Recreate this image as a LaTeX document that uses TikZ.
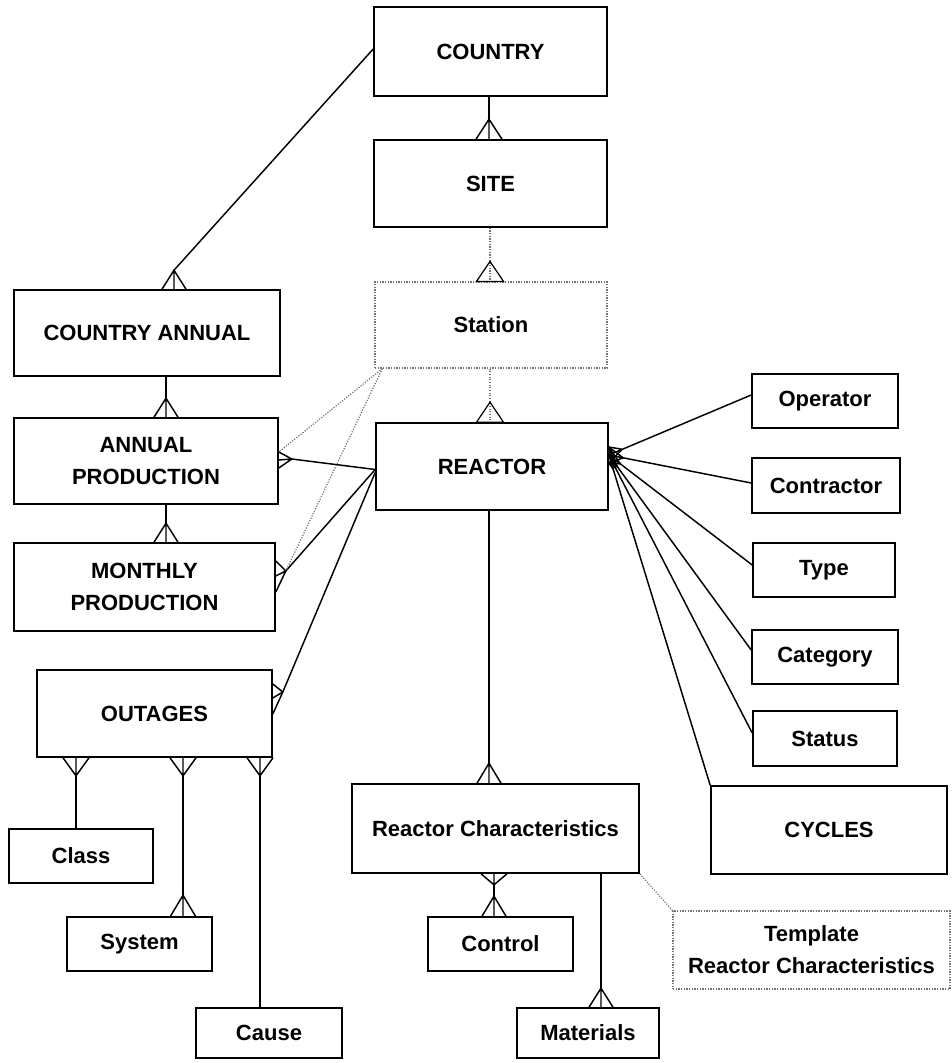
\documentclass[tikz,border=0pt]{standalone}
\usepackage{fontspec}
\setmainfont{Liberation Sans}
\usetikzlibrary{calc}

\tikzset{
  ent/.style={draw, line width=1.2pt, inner sep=2pt, align=center,
    font=\fontsize{16.5}{24}\selectfont\bfseries},
  weak/.style={ent, draw=black!55, dash pattern=on 0.9pt off 1.1pt, line width=0.9pt},
  link/.style={line width=1.1pt},
  faint/.style={draw=black!55, dash pattern=on 0.9pt off 1.1pt, line width=0.9pt},
  tri/.style={line width=0.9pt},
}

% entity box given by its corners (x1,y1) (x2,y2), in px
\newcommand\entity[7][ent]{%
  \node[#1, minimum width={(#5-#3)*0.75pt}, minimum height={(#6-#4)*0.75pt}]
    (#2) at ({(#3+#5)/2},{(#4+#6)/2}) {#7};}

% crow's foot on an edge point #1, tip named #2 at offset #3, half spread #4
\newcommand\foot[4]{%
  \coordinate (#2) at ($(#1)+(#3)$);
  \draw[link] ($(#1)+(#4)$) -- (#2) -- ($(#1)-(#4)$) (#2) -- (#1);}

% crow's foot given by its tip #1 and prong ends #2 #3 #4
\newcommand\crow[4]{\draw[link] (#2) -- (#1) -- (#3) (#1) -- (#4);}

\begin{document}
\begin{tikzpicture}[x=0.75pt,y=-0.75pt]
\useasboundingbox (0,0) rectangle (951,1063);

% entities
\entity{country}{374}{7}{607}{96}{COUNTRY}
\entity{site}{374}{140}{607}{227}{SITE}
\entity[weak]{station}{375}{282}{607}{368}{Station}
\entity{reactor}{376}{423}{608}{510}{REACTOR}
\entity{cannual}{14}{290}{280}{376}{COUNTRY ANNUAL}
\entity{annual}{14}{418}{278}{504}{ANNUAL\\PRODUCTION}
\entity{monthly}{14}{543}{275}{631}{MONTHLY\\PRODUCTION}
\entity{outages}{37}{670}{272}{757}{OUTAGES}
\entity{class}{9}{829}{153}{883}{Class}
\entity{system}{67}{917}{212}{971}{System}
\entity{cause}{196}{1008}{342}{1058}{Cause}
\entity{operator}{752}{374}{898}{428}{Operator}
\entity{contractor}{752}{458}{900}{513}{Contractor}
\entity{rtype}{753}{543}{895}{597}{Type}
\entity{category}{752}{630}{898}{684}{Category}
\entity{status}{753}{711}{897}{766}{Status}
\entity{cycles}{711}{786}{947}{874}{CYCLES}
\entity{rchar}{352}{784}{639}{873}{Reactor Characteristics}
\entity{control}{428}{917}{573}{971}{Control}
\entity{materials}{517}{1008}{659}{1058}{Materials}
\entity[weak]{template}{673}{911}{950}{989}{Template\\Reactor Characteristics}

% COUNTRY -> SITE
\coordinate (s1) at ($(site.north)+(-1.5,0)$);
\foot{s1}{s1t}{0,-20}{13,0}
\draw[link] (s1 |- country.south) -- (s1t);

% COUNTRY -> COUNTRY ANNUAL
\coordinate (ca1) at ($(cannual.north)+(27,0)$);
\foot{ca1}{ca1t}{0,-19}{12,0}
\draw[link] ($(country.west)+(0,-2.5)$) -- (ca1t);

% COUNTRY ANNUAL -> ANNUAL PRODUCTION
\coordinate (ap1) at ($(annual.north)+(20,0)$);
\foot{ap1}{ap1t}{0,-19}{12,0}
\draw[link] (ap1 |- cannual.south) -- (ap1t);

% ANNUAL PRODUCTION -> MONTHLY PRODUCTION
\coordinate (mp1) at ($(monthly.north)+(21.5,0)$);
\foot{mp1}{mp1t}{0,-19}{12,0}
\draw[link] (mp1 |- annual.south) -- (mp1t);

% SITE -> Station -> REACTOR (dotted, with triangles)
\coordinate (st1) at ($(station.north)+(-1,0)$);
\coordinate (st1t) at ($(st1)+(0,-20)$);
\draw[faint] (st1 |- site.south) -- (st1);
\draw[tri] (st1t) -- ($(st1)+(-13.5,0)$) -- ($(st1)+(13.5,0)$) -- cycle;
\coordinate (r1) at ($(reactor.north)+(-2,0)$);
\coordinate (r1t) at ($(r1)+(0,-20)$);
\draw[faint] (r1 |- station.south) -- (r1);
\draw[tri] (r1t) -- ($(r1)+(-13.5,0)$) -- ($(r1)+(13.5,0)$) -- cycle;

% REACTOR -> productions and outages
\coordinate (rw) at ($(reactor.west)+(0,3)$);
\coordinate (apT) at ($(annual.east)+(13,-2)$);
\crow{apT}{$(annual.east)+(0,-9)$}{$(annual.east)+(0,7)$}{$(annual.east)+(0,-1)$}
\draw[link] (rw) -- (apT);
\coordinate (mpT) at ($(monthly.east)+(10,-16)$);
\crow{mpT}{$(monthly.east)+(0,-26)$}{$(monthly.east)+(0,5)$}{$(monthly.east)+(0,-11)$}
\draw[link] (rw) -- (mpT);
\coordinate (ouT) at ($(outages.east)+(10,-21.5)$);
\crow{ouT}{$(outages.east)+(0,-29.5)$}{$(outages.east)+(0,0.5)$}{$(outages.east)+(0,-15.5)$}
\draw[link] ($(reactor.west)+(0,6)$) -- (ouT);

% Station -> productions (dotted)
\coordinate (sw) at ($(station.south west)+(8,0)$);
\draw[faint] (sw) -- ($(annual.east)+(0,-9)$);
\draw[faint] (sw) -- (mpT);

% REACTOR -> code tables and CYCLES
\coordinate (re) at ($(reactor.east)+(0,-11.5)$);
\foreach \tg/\dy in {operator/-6, contractor/-2.5, rtype/-5, category/-7, status/-5.5} {
  \coordinate (tgt) at ($(\tg.west)+(0,\dy)$);
  \coordinate (tip) at ($(re)!11pt!(tgt)$);
  \crow{tip}{$(re)+(0,-8)$}{$(re)+(0,8)$}{re}
  \draw[link] (tip) -- (tgt);
}
\coordinate (tip) at ($(re)!11pt!(cycles.north west)$);
\crow{tip}{$(re)+(0,-8)$}{$(re)+(0,8)$}{re}
\draw[link] (tip) -- (cycles.north west);

% REACTOR -> Reactor Characteristics
\coordinate (rc1) at ($(rchar.north)+(-6.5,0)$);
\foot{rc1}{rc1t}{0,-20}{12,0}
\draw[link] (rc1 |- reactor.south) -- (rc1t);

% Reactor Characteristics -> Control
\coordinate (co1) at ($(control.north)+(-6.5,0)$);
\coordinate (co0) at (co1 |- rchar.south);
\foot{co0}{co0t}{0,11}{13,0}
\foot{co1}{co1t}{0,-20}{12,0}
\draw[link] (co0t) -- (co1t);

% Reactor Characteristics -> Materials
\coordinate (ma1) at ($(materials.north)+(13,0)$);
\foot{ma1}{ma1t}{0,-19}{12,0}
\draw[link] (ma1 |- rchar.south) -- (ma1t);

% Reactor Characteristics -> Template (dotted)
\draw[faint] (rchar.south east) -- (template.north west);

% OUTAGES -> Class, System, Cause
\coordinate (o1) at ($(outages.south)+(-78.5,0)$);
\foot{o1}{o1t}{0,18}{13,0}
\draw[link] (o1t) -- (o1t |- class.north);
\coordinate (o2) at ($(outages.south)+(28.5,0)$);
\foot{o2}{o2t}{0,18}{13,0}
\coordinate (sy1) at (o2 |- system.north);
\foot{sy1}{sy1t}{0,-21}{12.5,0}
\draw[link] (o2t) -- (sy1t);
\coordinate (o3) at ($(outages.south)+(105.5,0)$);
\foot{o3}{o3t}{0,18}{13,0}
\draw[link] (o3t) -- (o3t |- cause.north);
\end{tikzpicture}
\end{document}
